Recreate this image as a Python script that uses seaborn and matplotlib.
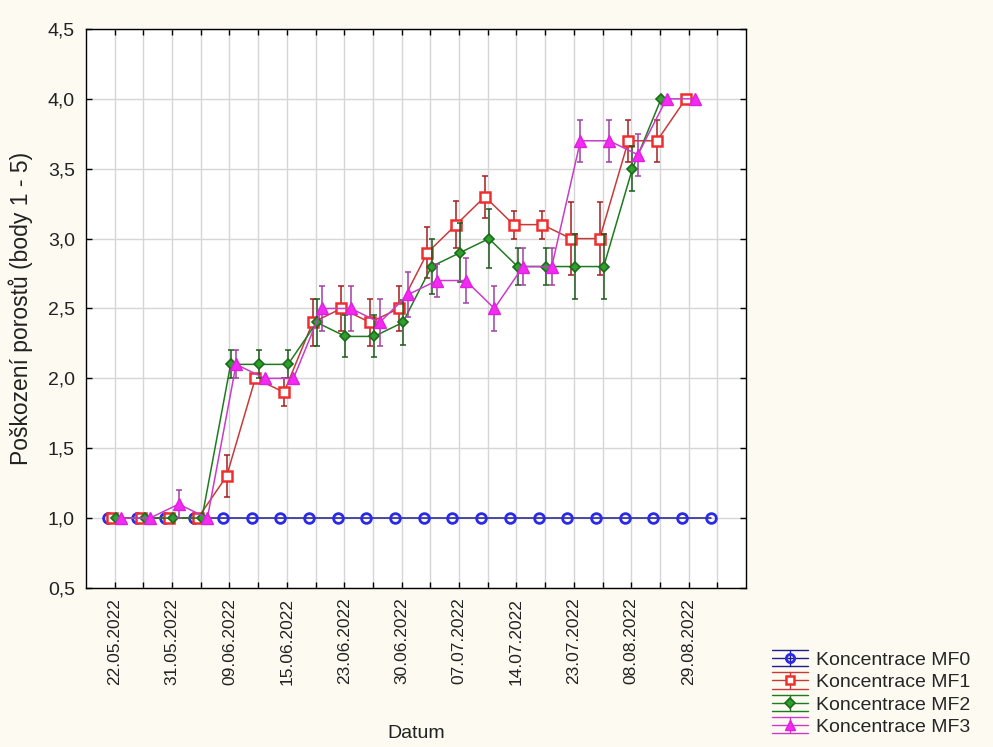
import numpy as np
import pandas as pd
import matplotlib
matplotlib.use("Agg")
import matplotlib.pyplot as plt
from matplotlib.ticker import FuncFormatter, MultipleLocator
from matplotlib.lines import Line2D
from matplotlib.legend_handler import HandlerBase
import seaborn as sns

# Sampling dates (22 assessments, every other one is labelled)
date_labels = ["22.05.2022", "31.05.2022", "09.06.2022", "15.06.2022",
               "23.06.2022", "30.06.2022", "07.07.2022", "14.07.2022",
               "23.07.2022", "08.08.2022", "29.08.2022"]
n_dates = 22

series_names = ["Koncentrace MF0", "Koncentrace MF1",
                "Koncentrace MF2", "Koncentrace MF3"]

# Mean damage score (points 1-5) and half-width of the whiskers
mf0 = [1.0, 1.0, 1.0, 1.0, 1.0, 1.0, 1.0, 1.0, 1.0, 1.0, 1.0,
       1.0, 1.0, 1.0, 1.0, 1.0, 1.0, 1.0, 1.0, 1.0, 1.0, 1.0]
mf0_err = [0.0] * 22

mf1 = [1.0, 1.0, 1.0, 1.0, 1.3, 2.0, 1.9, 2.4, 2.5, 2.4, 2.5,
       2.9, 3.1, 3.3, 3.1, 3.1, 3.0, 3.0, 3.7, 3.7, 4.0]
mf1_err = [0.0, 0.0, 0.0, 0.0, 0.15, 0.0, 0.1, 0.17, 0.16, 0.17, 0.16,
           0.18, 0.17, 0.15, 0.1, 0.1, 0.26, 0.26, 0.15, 0.15, 0.0]

mf2 = [1.0, 1.0, 1.0, 1.0, 2.1, 2.1, 2.1, 2.4, 2.3, 2.3, 2.4,
       2.8, 2.9, 3.0, 2.8, 2.8, 2.8, 2.8, 3.5, 4.0]
mf2_err = [0.0, 0.0, 0.0, 0.0, 0.1, 0.1, 0.1, 0.17, 0.15, 0.15, 0.16,
           0.2, 0.21, 0.21, 0.13, 0.13, 0.23, 0.23, 0.16, 0.0]

mf3 = [1.0, 1.0, 1.1, 1.0, 2.1, 2.0, 2.0, 2.5, 2.5, 2.4, 2.6,
       2.7, 2.7, 2.5, 2.8, 2.8, 3.7, 3.7, 3.6, 4.0, 4.0]
mf3_err = [0.0, 0.0, 0.1, 0.0, 0.1, 0.0, 0.0, 0.16, 0.16, 0.17, 0.16,
           0.12, 0.16, 0.16, 0.13, 0.13, 0.15, 0.15, 0.15, 0.0, 0.0]

# Styling per series: dodge offset, marker, colours
styles = [
    dict(off=-0.23, marker="o", ms=7, mew=2.0, line="#1E1E8E",
         edge="#2A2AE8", face="none", ecol="#1E1E8E"),
    dict(off=-0.10, marker="s", ms=7.5, mew=1.8, line="#C83A3A",
         edge="#F02E2E", face="white", ecol="#A41E1E"),
    dict(off=0.04, marker="D", ms=5.5, mew=1.2, line="#1F7A1F",
         edge="#1C6A1C", face="#2EA02E", ecol="#1D5A1D"),
    dict(off=0.23, marker="^", ms=8.5, mew=1.0, line="#C83CC8",
         edge="#E020E0", face="#F22AF2", ecol="#A040A0"),
]
values = [mf0, mf1, mf2, mf3]
errors = [mf0_err, mf1_err, mf2_err, mf3_err]


class WhiskerKey(HandlerBase):
    """Legend key: line with marker, a vertical whisker and two full-width caps."""

    def create_artists(self, legend, orig_handle, xdescent, ydescent,
                       width, height, fontsize, trans):
        st = orig_handle.style
        x0, x1 = -xdescent, -xdescent + width
        cx = 0.5 * (x0 + x1)
        cy = 0.5 * height - ydescent
        dh = 0.42 * fontsize
        arts = [
            Line2D([x0, x1], [cy, cy], color=st["line"], lw=1.0),
            Line2D([x0, x1], [cy + dh, cy + dh], color=st["line"], lw=1.0),
            Line2D([x0, x1], [cy - dh, cy - dh], color=st["line"], lw=1.0),
            Line2D([cx, cx], [cy - dh, cy + dh], color=st["line"], lw=1.0),
            Line2D([cx], [cy], marker=st["marker"], ms=st["ms"] * 0.85,
                   mec=st["edge"], mfc=st["face"], mew=st["mew"], lw=0),
        ]
        for a in arts:
            a.set_transform(trans)
        return arts


sns.set_theme(style="white")
plt.rcParams["font.family"] = ["Liberation Sans", "DejaVu Sans"]

fig = plt.figure(figsize=(9.93, 7.47), dpi=100, facecolor="#FCFAF1")
ax = fig.add_axes([0.0866, 0.2129, 0.6647, 0.7483])
ax.set_facecolor("white")

handles = []
for k, (name, vals, errs, st) in enumerate(zip(series_names, values, errors, styles)):
    x = np.arange(len(vals)) + st["off"]
    df = pd.DataFrame({"x": x, "y": vals, "err": errs})
    sns.lineplot(data=df, x="x", y="y", ax=ax, color=st["line"], linewidth=1.1,
                 marker=st["marker"], markersize=st["ms"],
                 markeredgecolor=st["edge"], markerfacecolor=st["face"],
                 markeredgewidth=st["mew"], errorbar=None, legend=False,
                 zorder=3 + k)
    m = df["err"] > 0
    ax.errorbar(df.loc[m, "x"], df.loc[m, "y"], yerr=df.loc[m, "err"], fmt="none",
                ecolor=st["ecol"], elinewidth=1.1, capsize=2.5, capthick=1.1,
                zorder=2 + k)
    h = Line2D([], [], color=st["line"])
    h.style = st
    handles.append(h)

ax.set_xlim(-1, n_dates)
ax.set_ylim(0.5, 4.5)
ax.set_xticks(np.arange(n_dates))
tick_text = []
for i in range(n_dates):
    tick_text.append(date_labels[i // 2] if i % 2 == 0 else "")
ax.set_xticklabels(tick_text, rotation=90, fontsize=12.5)
ax.yaxis.set_major_locator(MultipleLocator(0.5))
ax.yaxis.set_major_formatter(FuncFormatter(lambda v, p: f"{v:.1f}".replace(".", ",")))
ax.tick_params(axis="y", labelsize=14, pad=8)
ax.tick_params(axis="x", pad=7)
ax.tick_params(direction="in", length=4, width=1, colors="black",
               top=True, right=True, bottom=True, left=True)
for lab in ax.get_xticklabels() + ax.get_yticklabels():
    lab.set_color("#222222")

ax.grid(True, color="#D6D6D6", linewidth=1.0)
ax.set_axisbelow(True)
for sp in ax.spines.values():
    sp.set_color("black")
    sp.set_linewidth(1.0)

ax.set_xlabel("Datum", fontsize=14, color="#222222")
ax.set_ylabel("Poškození porostů (body 1 - 5)", fontsize=16.5, color="#222222")
ax.xaxis.set_label_coords(0.5, -0.245)
ax.xaxis.label.set_va("top")
ax.yaxis.set_label_coords(-0.08, 0.5)

fig.legend(handles, series_names, loc="upper left", bbox_to_anchor=(0.777, 0.128),
           frameon=False, fontsize=14, handlelength=1.85, handletextpad=0.45,
           labelspacing=0.24, borderpad=0, borderaxespad=0,
           handler_map={Line2D: WhiskerKey()})

fig.savefig("out.png", dpi=100, facecolor=fig.get_facecolor())
